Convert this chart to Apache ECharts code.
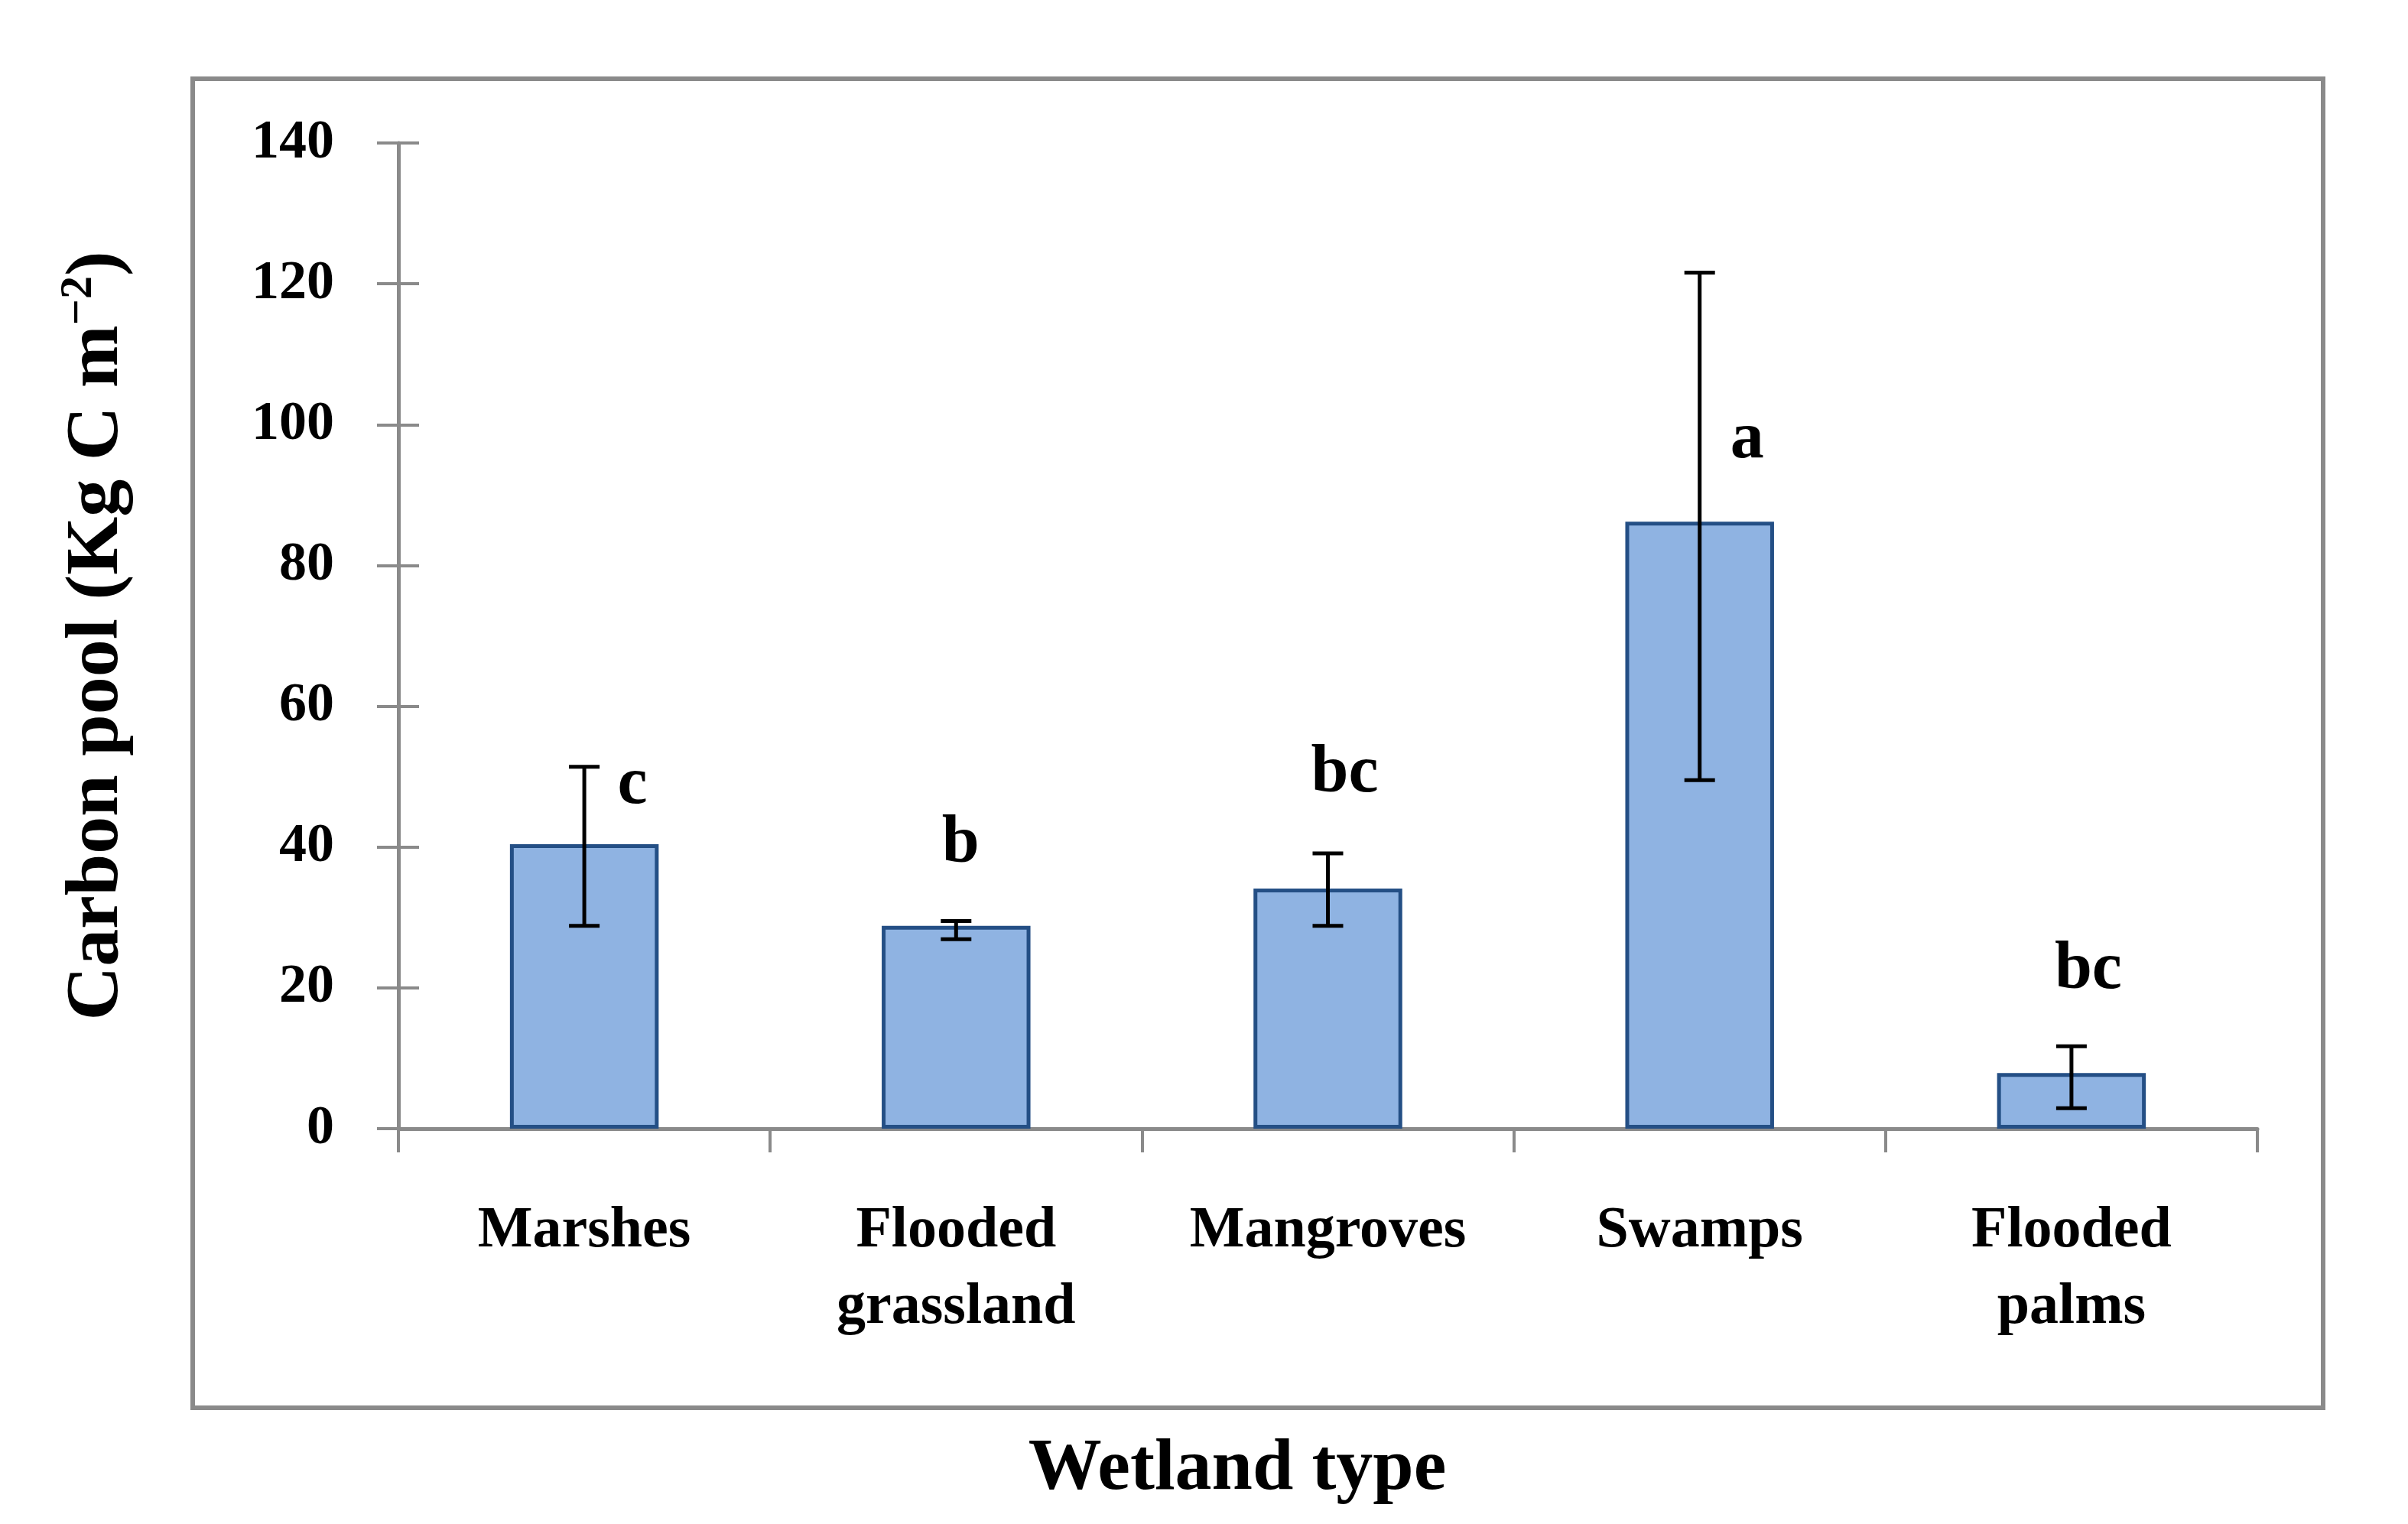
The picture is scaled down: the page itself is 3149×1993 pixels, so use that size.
<!DOCTYPE html>
<html>
<head>
<meta charset="utf-8">
<script src="https://cdn.jsdelivr.net/npm/echarts@6/dist/echarts.min.js"></script>
<style>
html,body{margin:0;padding:0;background:#fff;}
#chart{width:3149px;height:1993px;}
</style>
</head>
<body>
<div id="chart"></div>
<script>
// ---- data ----
var categories = ['Marshes', 'Flooded\ngrassland', 'Mangroves', 'Swamps', 'Flooded\npalms'];
var carbonPool = [40.4, 28.8, 34.1, 86.2, 7.9];
var errLow = [28.8, 26.9, 28.8, 49.5, 2.9];
var errHigh = [51.4, 29.5, 39.1, 121.6, 11.7];
var letters = ['c', 'b', 'bc', 'a', 'bc'];
var letterY = [48.7, 40.4, 50.4, 97.8, 22.5];
var yTicks = {min: 0, max: 140, interval: 20};

// ---- styling ----
var FONT = 'Liberation Serif';
var AXIS_GRAY = '#8a8a8a';
var letterOffsetX = [63, 6, 22, 62, 22];

var chart = echarts.init(document.getElementById('chart'), null, {renderer: 'canvas'});

var errData = categories.map(function (c, i) { return [i, errLow[i], errHigh[i]]; });
var letterData = categories.map(function (c, i) { return [i, letterY[i]]; });

var option = {
  backgroundColor: '#ffffff',
  animation: false,
  grid: {left: 521, right: 197, top: 187, bottom: 517},
  graphic: [
    {
      type: 'rect', z: -10,
      shape: {x: 252, y: 103, width: 2786, height: 1738},
      style: {fill: 'none', stroke: AXIS_GRAY, lineWidth: 6}
    },
    {
      type: 'text',
      x: 1618, y: 1922,
      style: {
        text: 'Wetland type',
        fill: '#000', align: 'center', verticalAlign: 'middle',
        font: 'bold 96px "' + FONT + '"'
      }
    }
  ],
  xAxis: {
    type: 'category',
    data: categories,
    boundaryGap: true,
    axisLine: {show: true, lineStyle: {color: AXIS_GRAY, width: 5}},
    axisTick: {show: true, interval: 0, length: 31, lineStyle: {color: AXIS_GRAY, width: 4}},
    axisLabel: {
      interval: 0, margin: 84, color: '#000',
      fontFamily: FONT, fontWeight: 'bold', fontSize: 76, lineHeight: 100
    },
    splitLine: {show: false}
  },
  yAxis: [
    {
      type: 'value',
      min: yTicks.min, max: yTicks.max, interval: yTicks.interval,
      name: '{m|Carbon pool (Kg C m}{s|−2}{m|)}',
      nameLocation: 'middle',
      nameGap: 338,
      nameRotate: 90,
      nameTextStyle: {
        rich: {
          m: {fontFamily: FONT, fontWeight: 'bold', fontSize: 98, color: '#000', lineHeight: 110},
          s: {fontFamily: FONT, fontWeight: 'bold', fontSize: 60, color: '#000', verticalAlign: 'top', lineHeight: 110, padding: [0, 0, 40, 0]}
        }
      },
      axisLine: {show: true, lineStyle: {color: AXIS_GRAY, width: 5}},
      axisTick: {show: true, length: 28, lineStyle: {color: AXIS_GRAY, width: 4}},
      axisLabel: {
        margin: 84, color: '#000',
        fontFamily: FONT, fontWeight: 'bold', fontSize: 72
      },
      splitLine: {show: false}
    },
    {
      type: 'value',
      position: 'left',
      min: yTicks.min, max: yTicks.max, interval: yTicks.interval,
      axisLine: {show: false},
      axisTick: {show: true, inside: true, length: 27, lineStyle: {color: AXIS_GRAY, width: 4}},
      axisLabel: {show: false},
      splitLine: {show: false}
    }
  ],
  series: [
    {
      type: 'bar',
      data: carbonPool,
      barWidth: '40%',
      itemStyle: {color: '#8fb3e2', borderColor: '#244f85', borderWidth: 5},
      z: 2
    },
    {
      type: 'custom',
      data: errData,
      z: 5,
      renderItem: function (params, api) {
        var x = api.value(0);
        var lo = api.coord([x, api.value(1)]);
        var hi = api.coord([x, api.value(2)]);
        var hw = 20;
        var st = {stroke: '#000', lineWidth: 5};
        return {
          type: 'group',
          children: [
            {type: 'line', shape: {x1: lo[0], y1: lo[1], x2: hi[0], y2: hi[1]}, style: st},
            {type: 'line', shape: {x1: lo[0] - hw, y1: lo[1], x2: lo[0] + hw, y2: lo[1]}, style: st},
            {type: 'line', shape: {x1: hi[0] - hw, y1: hi[1], x2: hi[0] + hw, y2: hi[1]}, style: st}
          ]
        };
      }
    },
    {
      type: 'custom',
      data: letterData,
      z: 6,
      renderItem: function (params, api) {
        var i = params.dataIndex;
        var p = api.coord([api.value(0), api.value(1)]);
        return {
          type: 'text',
          x: p[0] + letterOffsetX[i], y: p[1],
          style: {
            text: letters[i],
            fill: '#000', align: 'center', verticalAlign: 'middle',
            font: 'bold 88px "' + FONT + '"'
          }
        };
      }
    }
  ]
};
chart.setOption(option);
</script>
</body>
</html>
